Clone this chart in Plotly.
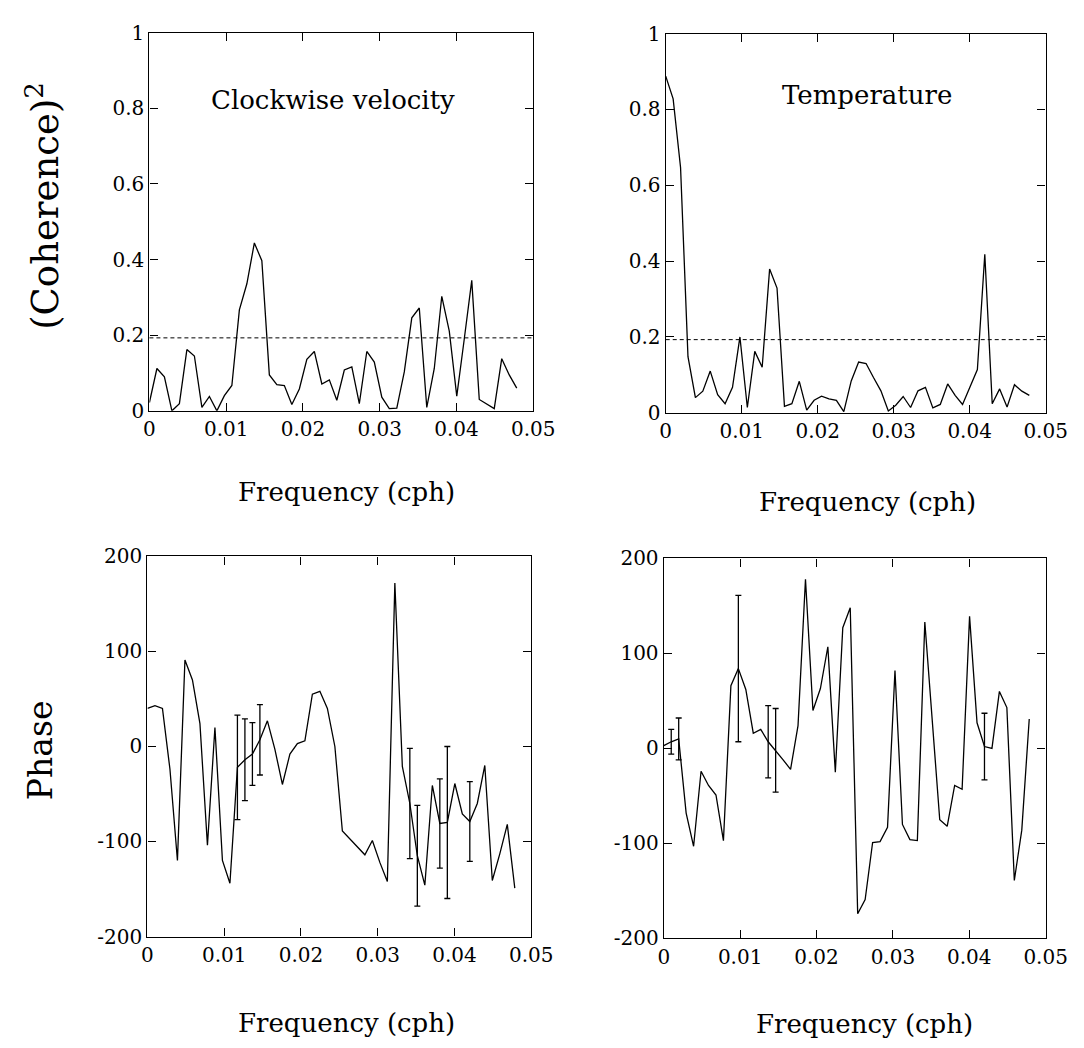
import plotly.graph_objects as go

# ---------------- data ----------------
freq = [0.0, 0.000977, 0.001953, 0.00293, 0.003906, 0.004883, 0.005859, 0.006836,
        0.007813, 0.008789, 0.009766, 0.010742, 0.011719, 0.012695, 0.013672, 0.014648,
        0.015625, 0.016602, 0.017578, 0.018555, 0.019531, 0.020508, 0.021484, 0.022461,
        0.023438, 0.024414, 0.025391, 0.026367, 0.027344, 0.02832, 0.029297, 0.030273,
        0.03125, 0.032227, 0.033203, 0.03418, 0.035156, 0.036133, 0.037109, 0.038086,
        0.039063, 0.040039, 0.041016, 0.041992, 0.042969, 0.043945, 0.044922, 0.045898,
        0.046875, 0.047852]

coh_cw = [0.022, 0.112, 0.09, 0.0, 0.019, 0.162, 0.145, 0.009, 0.038, 0.0,
          0.04, 0.067, 0.267, 0.336, 0.444, 0.397, 0.095, 0.069, 0.067, 0.017,
          0.058, 0.136, 0.157, 0.071, 0.082, 0.028, 0.108, 0.116, 0.019, 0.157,
          0.129, 0.036, 0.006, 0.007, 0.103, 0.246, 0.272, 0.009, 0.112, 0.303,
          0.211, 0.039, 0.19, 0.345, 0.03, 0.019, 0.006, 0.138, 0.095, 0.06]

coh_t = [0.888, 0.828, 0.647, 0.148, 0.04, 0.057, 0.11, 0.048, 0.024, 0.067,
         0.2, 0.014, 0.162, 0.12, 0.379, 0.329, 0.017, 0.024, 0.083, 0.007,
         0.033, 0.044, 0.037, 0.033, 0.003, 0.084, 0.134, 0.13, 0.093, 0.058,
         0.005, 0.02, 0.043, 0.014, 0.058, 0.067, 0.013, 0.022, 0.076, 0.046,
         0.022, 0.067, 0.114, 0.418, 0.024, 0.063, 0.015, 0.074, 0.057, 0.046]

sig_level = 0.193

phase_cw = [40, 43, 40, -24, -120, 91, 70, 24, -104, 20,
            -120, -144, -22, -14, -8, 7, 27, -3, -40, -8,
            3, 6, 55, 58, 40, 0, -89, -97, -105, -114,
            -99, -122, -142, 172, -21, -60, -115, -146, -41, -81,
            -80, -39, -71, -79, -60, -20, -141, -113, -82, -149]

err_cw = [None] * 12 + [55, 43, 33, 37] + [None] * 19 + [58, 53, None, None, 47, 80,
          None, None, 42] + [None] * 6

phase_t = [3, 7, 10, -68, -103, -24, -39, -49, -97, 66,
           84, 62, 16, 20, 7, -2, -12, -22, 24, 178,
           40, 63, 107, -25, 127, 148, -174, -159, -99, -98,
           -83, 82, -80, -96, -97, 133, 28, -75, -82, -39,
           -43, 139, 27, 2, 0, 60, 43, -139, -86, 31]

err_t = [None, 13, 22] + [None] * 7 + [77] + [None] * 3 + [38, 44] + [None] * 27 + \
        [35] + [None] * 6

x_ticks = [0, 0.01, 0.02, 0.03, 0.04, 0.05]
x_ticktext = ["0", "0.01", "0.02", "0.03", "0.04", "0.05"]
coh_ticks = [0, 0.2, 0.4, 0.6, 0.8, 1]
coh_ticktext = ["0", "0.2", "0.4", "0.6", "0.8", "1"]
ph_ticks = [-200, -100, 0, 100, 200]
ph_ticktext = ["-200", "-100", "0", "100", "200"]

# ---------------- figure ----------------
FONT = "DejaVu Serif"
W, H = 1084, 1048

fig = go.Figure()
line = dict(color="black", width=1.3)


def add_series(x, y, xa, ya):
    fig.add_trace(go.Scatter(x=x, y=y, mode="lines", line=line,
                             xaxis=xa, yaxis=ya, showlegend=False, hoverinfo="skip"))


def add_err(x, y, e, xa, ya):
    xs = [xv for xv, ev in zip(x, e) if ev is not None]
    ys = [yv for yv, ev in zip(y, e) if ev is not None]
    es = [ev for ev in e if ev is not None]
    fig.add_trace(go.Scatter(x=xs, y=ys, mode="markers",
                             marker=dict(size=1, color="rgba(0,0,0,0)"),
                             error_y=dict(type="data", array=es, visible=True,
                                          color="black", thickness=1.3, width=3),
                             xaxis=xa, yaxis=ya, showlegend=False, hoverinfo="skip"))


add_series(freq, coh_cw, "x", "y")
add_series(freq, coh_t, "x2", "y2")
add_series(freq, phase_cw, "x3", "y3")
add_err(freq, phase_cw, err_cw, "x3", "y3")
add_series(freq, phase_t, "x4", "y4")
add_err(freq, phase_t, err_t, "x4", "y4")

# significance lines
for xr, yr in (("x domain", "y"), ("x2 domain", "y2")):
    fig.add_shape(type="line", xref=xr, yref=yr, x0=0, x1=1,
                  y0=sig_level, y1=sig_level,
                  line=dict(color="black", width=1, dash="4px,3px"))


def px_x(a, b):
    return [a / W, b / W]


def px_y(top, bottom):
    return [1 - bottom / H, 1 - top / H]


axis_common = dict(showgrid=False, zeroline=False, showline=True, linecolor="black",
                   linewidth=1.3, mirror="ticks", ticks="inside", ticklen=8,
                   tickwidth=1.3, tickcolor="black",
                   tickfont=dict(family=FONT, size=20, color="black"))

xdoms = {"x": px_x(139, 533), "x2": px_x(669, 1059), "x3": px_x(137, 531), "x4": px_x(667, 1059)}
ydoms = {"y": px_y(13, 400), "y2": px_y(14, 402), "y3": px_y(549, 938), "y4": px_y(551, 940)}

layout_axes = {}
for i, (xk, yk) in enumerate(zip(["x", "x2", "x3", "x4"], ["y", "y2", "y3", "y4"])):
    xname = "xaxis" if xk == "x" else "xaxis" + xk[1:]
    yname = "yaxis" if yk == "y" else "yaxis" + yk[1:]
    layout_axes[xname] = dict(axis_common, domain=xdoms[xk], anchor=yk, range=[0, 0.05],
                              tickvals=x_ticks, ticktext=x_ticktext)
    if i < 2:
        layout_axes[yname] = dict(axis_common, domain=ydoms[yk], anchor=xk, range=[0, 1],
                                  tickvals=coh_ticks, ticktext=coh_ticktext)
    else:
        layout_axes[yname] = dict(axis_common, domain=ydoms[yk], anchor=xk, range=[-200, 200],
                                  tickvals=ph_ticks, ticktext=ph_ticktext)

fig.update_layout(width=W, height=H, margin=dict(l=0, r=0, t=0, b=0),
                  paper_bgcolor="white", plot_bgcolor="white",
                  font=dict(family=FONT, color="black"), **layout_axes)


def ann(text, x, y, size, angle=0):
    fig.add_annotation(text=text, x=x / W, y=1 - y / H, xref="paper", yref="paper",
                       showarrow=False, textangle=angle,
                       font=dict(family=FONT, size=size, color="black"),
                       xanchor="center", yanchor="middle")


ann("Clockwise velocity", 327, 82, 26)
ann("Temperature", 876, 77, 26)
ann("Frequency (cph)", 341, 483, 26)
ann("Frequency (cph)", 876, 493, 26)
ann("Frequency (cph)", 341, 1027, 26)
ann("Frequency (cph)", 873, 1028, 26)
ann("(Coherence)<sup>2</sup>", 30, 190, 37, -90)
ann("Phase", 28, 747, 33, -90)

fig.write_html("out.html")
